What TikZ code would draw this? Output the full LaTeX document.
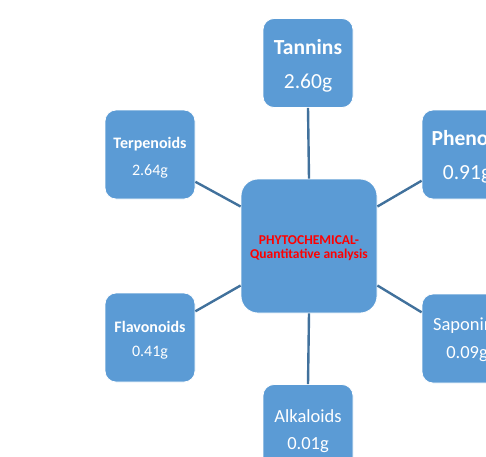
\documentclass[tikz,border=0pt]{standalone}
\usepackage{fontspec}
\setmainfont{Carlito}
\definecolor{boxblue}{HTML}{5B9BD5}
\definecolor{linkblue}{HTML}{41719C}
\begin{document}
\begin{tikzpicture}[x=1pt,y=-1pt,
  leaf/.style={draw=white, line width=0.8pt, fill=boxblue, rounded corners=11pt,
    minimum width=90pt, minimum height=89pt, inner sep=0pt},
  hub/.style={draw=white, line width=0.8pt, fill=boxblue, rounded corners=17pt,
    minimum width=136pt, minimum height=134pt, inner sep=0pt},
  lbl/.style={inner sep=0pt, text=white, align=center},
  hublbl/.style={inner sep=0pt, text=red, align=center, font=\bfseries\fontsize{13.5}{16}\selectfont},
  link/.style={draw=linkblue, line width=2.4pt}]
\useasboundingbox (0,0) rectangle (486,456);
\clip (0,0) rectangle (486,456);
\node[hub] (c) at (309,246) {};
\node[leaf] (tan) at (308,63) {};
\node[leaf] (phe) at (467,154.5) {};
\node[leaf] (ter) at (150,154.5) {};
\node[leaf] (fla) at (150,337.5) {};
\node[leaf] (sap) at (467,338.5) {};
\node[leaf] (alk) at (308,429) {};
\node[hublbl] (ct) at ([yshift=-2pt]c.center) {PHYTOCHEMICAL-\\[-2pt]Quantitative analysis};
\node[lbl, font=\fontsize{21.5}{25}\selectfont] (tant) at ([yshift=-2.5pt]tan.center) {\textbf{Tannins}\\[9pt]2.60g};
\node[lbl, font=\fontsize{21.5}{25}\selectfont] (phet) at ([yshift=-2.5pt]phe.center) {\textbf{Phenols}\\[9pt]0.91g};
\node[lbl, font=\fontsize{16}{19}\selectfont] (tert) at ([yshift=-3pt]ter.center) {\textbf{Terpenoids}\\[8pt]2.64g};
\node[lbl, font=\fontsize{16}{19}\selectfont] (flat) at ([yshift=-3pt]fla.center) {\textbf{Flavonoids}\\[5pt]0.41g};
\node[lbl, font=\fontsize{18.5}{22}\selectfont] (sapt) at ([yshift=-1.5pt]sap.center) {Saponins\\[6pt]0.09g};
\node[lbl, font=\fontsize{18.5}{22}\selectfont] (alkt) at ([yshift=-2pt]alk.center) {Alkaloids\\[5pt]0.01g};
\draw[link] (tan.south) -- (c.north);
\draw[link] (c.south) -- (alk.north);
\draw[link] (ter.-31) -- (c.150);
\draw[link] (phe.210) -- (c.30);
\draw[link] (fla.30) -- (c.210);
\draw[link] (sap.150) -- (c.-30);
\end{tikzpicture}
\end{document}
